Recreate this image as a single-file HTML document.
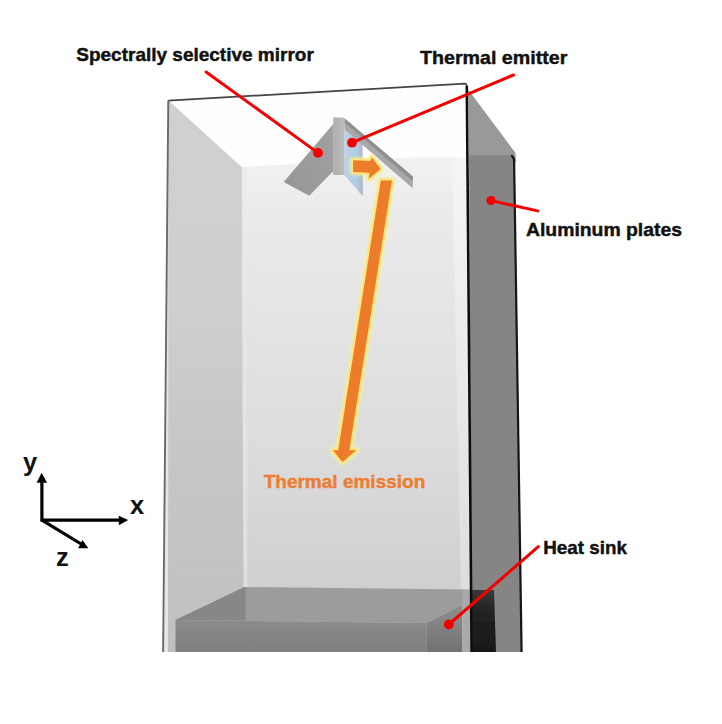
<!DOCTYPE html>
<html>
<head>
<meta charset="utf-8">
<style>
html,body{margin:0;padding:0;background:#ffffff;}
body{width:722px;height:724px;overflow:hidden;position:relative;}
svg{position:absolute;left:0;top:0;}
text{font-family:"Liberation Sans",sans-serif;}
</style>
</head>
<body>
<svg width="722" height="724" viewBox="0 0 722 724">
<defs>
<linearGradient id="gBack" gradientUnits="userSpaceOnUse" x1="0" y1="160" x2="0" y2="652">
<stop offset="0" stop-color="#f1f1f1"/>
<stop offset="0.041" stop-color="#efefef"/>
<stop offset="0.102" stop-color="#ebebeb"/>
<stop offset="0.193" stop-color="#e8e8e8"/>
<stop offset="0.386" stop-color="#e2e2e2"/>
<stop offset="0.589" stop-color="#dcdcdc"/>
<stop offset="0.793" stop-color="#d3d3d3"/>
<stop offset="0.854" stop-color="#d0d0d0"/>
<stop offset="1" stop-color="#cbcbcb"/>
</linearGradient>
<linearGradient id="gLeft" gradientUnits="userSpaceOnUse" x1="0" y1="100" x2="0" y2="652">
<stop offset="0" stop-color="#d0d0d0"/>
<stop offset="0.362" stop-color="#cfcfcf"/>
<stop offset="0.589" stop-color="#c8c8c8"/>
<stop offset="0.815" stop-color="#c3c3c3"/>
<stop offset="1" stop-color="#c0c0c0"/>
</linearGradient>
<linearGradient id="gHsFront" x1="0" y1="0" x2="0" y2="1">
<stop offset="0" stop-color="#8c8c8c"/>
<stop offset="0.35" stop-color="#868686"/>
<stop offset="1" stop-color="#7f7f7f"/>
</linearGradient>
<linearGradient id="gHsSide" gradientUnits="userSpaceOnUse" x1="0" y1="605" x2="0" y2="652">
<stop offset="0" stop-color="#8e8e8e"/>
<stop offset="0.3" stop-color="#878787"/>
<stop offset="1" stop-color="#717171"/>
</linearGradient>
<linearGradient id="gRin" x1="0" y1="0" x2="0" y2="1">
<stop offset="0" stop-color="#f5f5f5"/>
<stop offset="1" stop-color="#dadada"/>
</linearGradient>
<linearGradient id="gBlue" x1="0" y1="0" x2="1" y2="0">
<stop offset="0" stop-color="#b9d4ea"/>
<stop offset="1" stop-color="#adc6de"/>
</linearGradient>
<linearGradient id="gDark" x1="0" y1="0" x2="0" y2="1">
<stop offset="0" stop-color="#3a3a3a"/>
<stop offset="0.35" stop-color="#222222"/>
<stop offset="1" stop-color="#181818"/>
</linearGradient>
<linearGradient id="gWing" x1="0" y1="1" x2="1" y2="0">
<stop offset="0" stop-color="#959595"/>
<stop offset="1" stop-color="#a2a2a2"/>
</linearGradient>
<linearGradient id="gBar" x1="0" y1="0" x2="1" y2="0">
<stop offset="0" stop-color="#afafaf"/>
<stop offset="0.5" stop-color="#b4b4b4"/>
<stop offset="1" stop-color="#bdbdbd"/>
</linearGradient>
<filter id="glow2" x="-30%" y="-30%" width="160%" height="160%">
<feGaussianBlur stdDeviation="1.2"/>
</filter>
<filter id="glow" x="-20%" y="-20%" width="140%" height="140%">
<feGaussianBlur stdDeviation="0.6"/>
</filter>
<filter id="soft" x="0" y="0" width="722" height="724" filterUnits="userSpaceOnUse">
<feGaussianBlur stdDeviation="0.45"/>
</filter>
</defs>
<g filter="url(#soft)">
<!-- front face area (back wall) -->
<polygon points="168.4,100.4 466.5,83.5 471.6,652 163,652" fill="url(#gBack)"/>
<!-- right inner wall strip -->
<polygon points="452,157.5 466.8,157.3 471,652 462.3,652" fill="url(#gRin)"/>
<!-- ceiling -->
<polygon points="168.4,100.4 466.5,83.5 466.8,157.3 405,157.8 241.8,167.2" fill="#fefefe"/>
<!-- left wall -->
<polygon points="168.4,100.4 241.8,167.2 243.5,652 168,652" fill="url(#gLeft)"/>
<polygon points="241.8,167.2 246,167 247.5,587 243.5,587" fill="#eaeaea" opacity="0.55"/>
<!-- light strip left of left wall -->
<polygon points="163,652 168,652 168.4,100.4" fill="#e6e6e6"/>

<!-- heat sink -->
<polygon points="175.5,620 244.5,587 465,589.5 462.3,605 426.4,623" fill="#9c9c9c"/>
<polygon points="175.5,620 244.5,587 245.5,587 245.5,620.5" fill="#878787"/>
<polygon points="175.5,620 426.4,623 426.4,652 175.5,652" fill="url(#gHsFront)"/>
<polygon points="426.4,623 462.3,605 462.3,652 426.4,652" fill="url(#gHsSide)"/>
<polygon points="462.3,589.5 470.5,589.5 471,652 462.3,652" fill="#a9a9a9"/>

<!-- right side face (aluminum plate) -->
<polygon points="468.3,90 470,92 515.4,152.7 516.2,162 469,156" fill="#999999"/>
<polygon points="469,155.6 511.5,155.2 513.8,158 521.5,652 471.6,652" fill="#858585"/>
<!-- dark heat sink behind plate -->
<polygon points="471.5,590 494,590 496,652 472,652" fill="url(#gDark)"/>
<!-- right face right edge -->
<path d="M511.2,155.4 Q513.9,156.6 514.1,161 L521.6,652" stroke="#141414" stroke-width="2.2" fill="none"/>

<!-- outline -->
<path d="M168.3,100.6 L464.8,83.6 Q466.7,83.8 466.8,86" stroke="#444" stroke-width="1.7" fill="none"/>
<path d="M466.8,86 L471.6,652" stroke="#111" stroke-width="2.6" fill="none"/>
<path d="M163.1,652 L168.3,100.6" stroke="#6a6a6a" stroke-width="1.9" fill="none"/>

<!-- mirror left wing -->
<polygon points="333.4,123.7 283.7,182 309.2,195.7 333.4,170.9" fill="url(#gWing)"/>
<!-- emitter blue -->
<polygon points="344.3,121 362.3,137 362.8,196 344.3,175" fill="url(#gBlue)"/>
<polygon points="359.3,134 362.3,137 362.8,196 359.5,192.5" fill="#b3bcc8"/>
<!-- center bar -->
<rect x="333.2" y="117.5" width="11.2" height="57.5" fill="url(#gBar)"/>
<!-- right wing -->
<polygon points="344.7,118.5 412.8,176.5 412.8,188.3 344.7,129.5" fill="#a8a8a8"/>
<polygon points="344.7,118.5 412.8,176.5 412.8,181 344.7,122.8" fill="#8f8f8f"/>

<!-- small orange arrow -->
<polygon points="353.1,160.3 370.3,161 371.8,157.5 380.5,169 368.7,178.7 369.5,172.8 353.1,172.1" fill="#eef2a0" stroke="#eef2a0" stroke-width="7" stroke-linejoin="round" opacity="0.75" filter="url(#glow2)"/>
<polygon points="353.1,160.3 370.3,161 371.8,157.5 380.5,169 368.7,178.7 369.5,172.8 353.1,172.1" fill="#ffe47c" stroke="#ffe47c" stroke-width="4" stroke-linejoin="round" filter="url(#glow)"/>
<polygon points="353.1,160.3 370.3,161 371.8,157.5 380.5,169 368.7,178.7 369.5,172.8 353.1,172.1" fill="#ed7b2a"/>
<!-- long orange arrow -->
<polygon points="380.8,180.6 391.9,180.6 349.3,450.3 356.2,450.3 342.4,462 332.9,450.3 338.2,450.3" fill="#eef2a0" stroke="#eef2a0" stroke-width="7" stroke-linejoin="round" opacity="0.75" filter="url(#glow2)"/>
<polygon points="380.8,180.6 391.9,180.6 349.3,450.3 356.2,450.3 342.4,462 332.9,450.3 338.2,450.3" fill="#ffe47c" stroke="#ffe47c" stroke-width="4" stroke-linejoin="round" filter="url(#glow)"/>
<polygon points="380.8,180.6 391.9,180.6 349.3,450.3 356.2,450.3 342.4,462 332.9,450.3 338.2,450.3" fill="#ed7b2a"/>

<!-- red leaders -->
<g stroke="#f30000" stroke-width="3" fill="none" stroke-linecap="round">
<line x1="206.1" y1="72" x2="318" y2="152.9"/>
<line x1="513.5" y1="75" x2="352" y2="142.7"/>
<line x1="537.7" y1="210.9" x2="491" y2="200.6"/>
<line x1="538.3" y1="546.6" x2="448.8" y2="624.5"/>
</g>
<g fill="#f30000">
<circle cx="318" cy="152.9" r="4.9"/>
<circle cx="352" cy="142.7" r="4.9"/>
<circle cx="491" cy="200.6" r="4.6"/>
<circle cx="448.8" cy="624.5" r="4.9"/>
</g>

<!-- axes -->
<g stroke="#000" stroke-width="3.2" fill="none">
<path d="M41.9,482 L41.9,520.1 L119,520.1"/>
<path d="M41.9,520.1 L82,544.5"/>
</g>
<g fill="#000">
<polygon points="41.6,472.7 36.6,482.7 47.1,482.7"/>
<polygon points="128.2,520.1 118.8,515.7 118.8,525.2"/>
<polygon points="88.3,548.3 82.5,540 78.1,548.3"/>
</g>
</g>

<!-- labels -->
<g font-weight="bold" font-size="19" fill="#111" stroke="#111" stroke-width="0.45">
<text x="76.3" y="61.2" textLength="237.5" lengthAdjust="spacingAndGlyphs">Spectrally selective mirror</text>
<text x="420" y="64.3" textLength="147.3" lengthAdjust="spacingAndGlyphs">Thermal emitter</text>
<text x="526" y="235.7" textLength="156" lengthAdjust="spacingAndGlyphs">Aluminum plates</text>
<text x="543.3" y="554.1" textLength="83.6" lengthAdjust="spacingAndGlyphs">Heat sink</text>
</g>
<text x="263.7" y="488.2" font-weight="bold" font-size="19" fill="#ED7D31" stroke="#ED7D31" stroke-width="0.4" textLength="161.6" lengthAdjust="spacingAndGlyphs">Thermal emission</text>
<g font-size="25.5" font-weight="bold" fill="#111">
<text x="23" y="470.5">y</text>
<text x="130" y="513.8">x</text>
<text x="56" y="566">z</text>
</g>
</svg>
</body>
</html>
